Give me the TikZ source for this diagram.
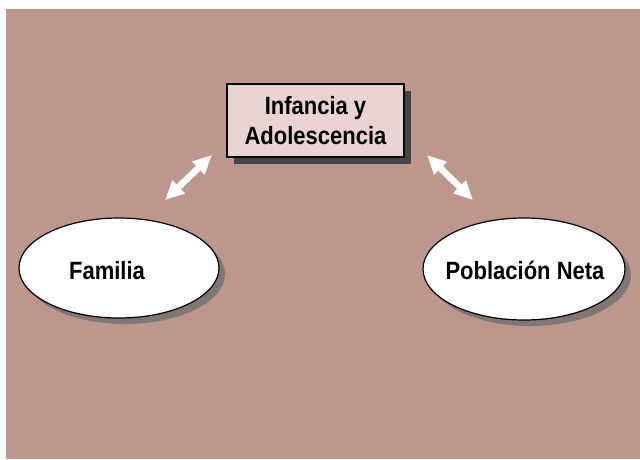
\documentclass[tikz,border=0pt]{standalone}
\usepackage{fontspec}
\setmainfont{Liberation Sans}
\newfontfamily\lblfont[FakeStretch=0.88]{Liberation Sans}
\usetikzlibrary{arrows.meta,shadows,shapes.geometric}
\definecolor{bgc}{RGB}{189,150,143}
\definecolor{boxfill}{RGB}{234,212,210}
\definecolor{boxshadow}{RGB}{70,66,66}
\definecolor{ellshadow}{RGB}{128,118,116}
\tikzset{
  lbl/.style={font=\lblfont\bfseries\fontsize{25}{30}\selectfont, text=black, align=center},
  topbox/.style={lbl, rectangle, draw=black, line width=1.2pt, fill=boxfill, minimum width=177pt, minimum height=73pt, inner sep=0pt,
    drop shadow={shadow xshift=7pt, shadow yshift=-7pt, fill=boxshadow, opacity=1}},
  ovalnode/.style={ellipse, draw=black, line width=1.2pt, fill=white, inner sep=0pt,
    drop shadow={shadow xshift=6pt, shadow yshift=-6pt, fill=ellshadow, opacity=1}},
  linkarrow/.style={white, line width=6.5pt, {Triangle[width=17pt,length=19pt]}-{Triangle[width=17pt,length=19pt]}}
}
\begin{document}
\begin{tikzpicture}[x=1pt,y=-1pt]
\useasboundingbox (0,0) rectangle (640,459);
\fill[bgc] (6,9) rectangle (640,459);
\node[topbox] (inf) at (315.5,120.5) {Infancia y\\Adolescencia};
\node[ovalnode, minimum width=200pt, minimum height=100pt] (fam) at (119,268) {};
\node[lbl] (famt) at (107,271) {Familia};
\node[ovalnode, minimum width=202pt, minimum height=102pt] (pob) at (524,269) {};
\node[lbl] (pobt) at (525,270) {Población Neta};
\coordinate (la) at (165,200);
\coordinate (lb) at (212,155);
\coordinate (ra) at (473,200);
\coordinate (rb) at (427,155);
\draw[linkarrow] (la) -- (lb);
\draw[linkarrow] (ra) -- (rb);
\end{tikzpicture}
\end{document}
